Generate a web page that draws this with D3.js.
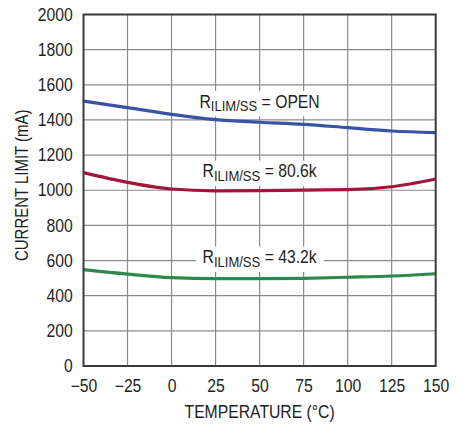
<!DOCTYPE html>
<html>
<head>
<meta charset="utf-8">
<script src="https://cdn.jsdelivr.net/npm/d3@7"></script>
<style>
  html, body { margin: 0; padding: 0; background: #fff; }
  svg text { font-family: "Liberation Sans", Arial, Helvetica, sans-serif; fill: #231f20; }
</style>
</head>
<body>
<svg id="chart" width="472" height="426"></svg>
<script>
// Temperature sweep (°C)
const temperature = [-50, -25, 0, 25, 50, 75, 100, 125, 150];

// Current limit (mA) for each R_ILIM/SS setting
const currentOpen = [1507, 1470, 1432, 1402, 1387, 1375, 1356, 1337, 1328];
const current806k = [1100, 1045, 1007, 997, 998, 1001, 1003, 1020, 1064];
const current432k = [548, 523, 503, 497, 497, 499, 505, 512, 525];

// Axis ticks
const xTicks = [-50, -25, 0, 25, 50, 75, 100, 125, 150];
const yTicks = [0, 200, 400, 600, 800, 1000, 1200, 1400, 1600, 1800, 2000];

// Curve labels: resistor setting, label anchor temperature, label baseline current
const seriesNames = ["OPEN", "80.6k", "43.2k"];
const labelAnchorT = [50, 50, 50];
const labelAnchorI = [1470, 1073, 584];
const seriesColors = ["#3953a4", "#a0173c", "#2b8a4b"];

const FS = 17.5;      // base font size
const SQUEEZE = 0.9;  // horizontal condensing of the sans face

const svg = d3.select("#chart");
const m = { left: 83.5, right: 435.7, top: 14.5, bottom: 366 };

const x = d3.scaleLinear().domain([-50, 150]).range([m.left, m.right]);
const y = d3.scaleLinear().domain([0, 2000]).range([m.bottom, m.top]);

// Grid
const grid = svg.append("g");
grid.selectAll("line.v").data(xTicks.slice(1, -1)).join("line")
  .attr("x1", d => x(d)).attr("x2", d => x(d))
  .attr("y1", m.top).attr("y2", m.bottom)
  .attr("stroke", "#8a8a8a").attr("stroke-width", 1.2);
grid.selectAll("line.h").data(yTicks.slice(1, -1)).join("line")
  .attr("x1", m.left).attr("x2", m.right)
  .attr("y1", d => y(d)).attr("y2", d => y(d))
  .attr("stroke", "#8a8a8a").attr("stroke-width", 1.2);

// Axes (tick labels only; frame drawn separately)
const xAxis = svg.append("g")
  .attr("transform", `translate(0,${m.bottom})`)
  .call(d3.axisBottom(x).tickValues(xTicks).tickSize(0).tickPadding(20)
    .tickFormat(d => d < 0 ? "\u2212" + Math.abs(d) : String(d)));
const yAxis = svg.append("g")
  .attr("transform", `translate(${m.left},0)`)
  .call(d3.axisLeft(y).tickValues(yTicks).tickSize(0).tickPadding(12)
    .tickFormat(d3.format("d")));
[xAxis, yAxis].forEach(a => {
  a.select(".domain").remove();
  a.selectAll("text")
    .attr("font-size", FS).attr("fill", "#231f20")
    .attr("font-family", null)
    .attr("transform", `scale(${SQUEEZE},1)`);
});
xAxis.selectAll("text").attr("dy", "0.32em");

// Series lines
const series = [currentOpen, current806k, current432k];
const line = d3.line()
  .x((d, i) => x(temperature[i]))
  .y(d => y(d))
  .curve(d3.curveMonotoneX);

// Curve labels with white backing boxes
series.forEach((vals, k) => {
  const g = svg.append("g")
    .attr("transform", `translate(${x(labelAnchorT[k])},${y(labelAnchorI[k])})`);
  const inner = g.append("g").attr("transform", `scale(${SQUEEZE},1)`);
  const t = inner.append("text")
    .attr("text-anchor", "middle")
    .attr("font-size", FS);
  t.append("tspan").text("R");
  t.append("tspan").attr("font-size", 14.5).attr("dy", 3.5).text("ILIM/SS");
  t.append("tspan").attr("dy", -3.5).text(" = " + seriesNames[k]);
  const bb = t.node().getBBox();
  inner.insert("rect", "text")
    .attr("x", bb.x - 7).attr("y", bb.y - 1)
    .attr("width", bb.width + 14).attr("height", bb.height + 3)
    .attr("fill", "#fff");
});

series.forEach((vals, k) => {
  svg.append("path")
    .datum(vals)
    .attr("d", line)
    .attr("fill", "none")
    .attr("stroke", seriesColors[k])
    .attr("stroke-width", 3.2);
});

// Frame
svg.append("rect")
  .attr("x", m.left).attr("y", m.top)
  .attr("width", m.right - m.left).attr("height", m.bottom - m.top)
  .attr("fill", "none").attr("stroke", "#3a3a3a").attr("stroke-width", 2);

// Axis titles
svg.append("text")
  .attr("transform", `translate(${x(50)},418) scale(${SQUEEZE},1)`)
  .attr("text-anchor", "middle")
  .attr("font-size", FS)
  .text("TEMPERATURE (°C)");
svg.append("text")
  .attr("transform", `translate(28,${(m.top + m.bottom) / 2 - 5}) rotate(-90) scale(${SQUEEZE * 0.95},1)`)
  .attr("text-anchor", "middle")
  .attr("font-size", FS)
  .text("CURRENT LIMIT (mA)");
</script>
</body>
</html>
